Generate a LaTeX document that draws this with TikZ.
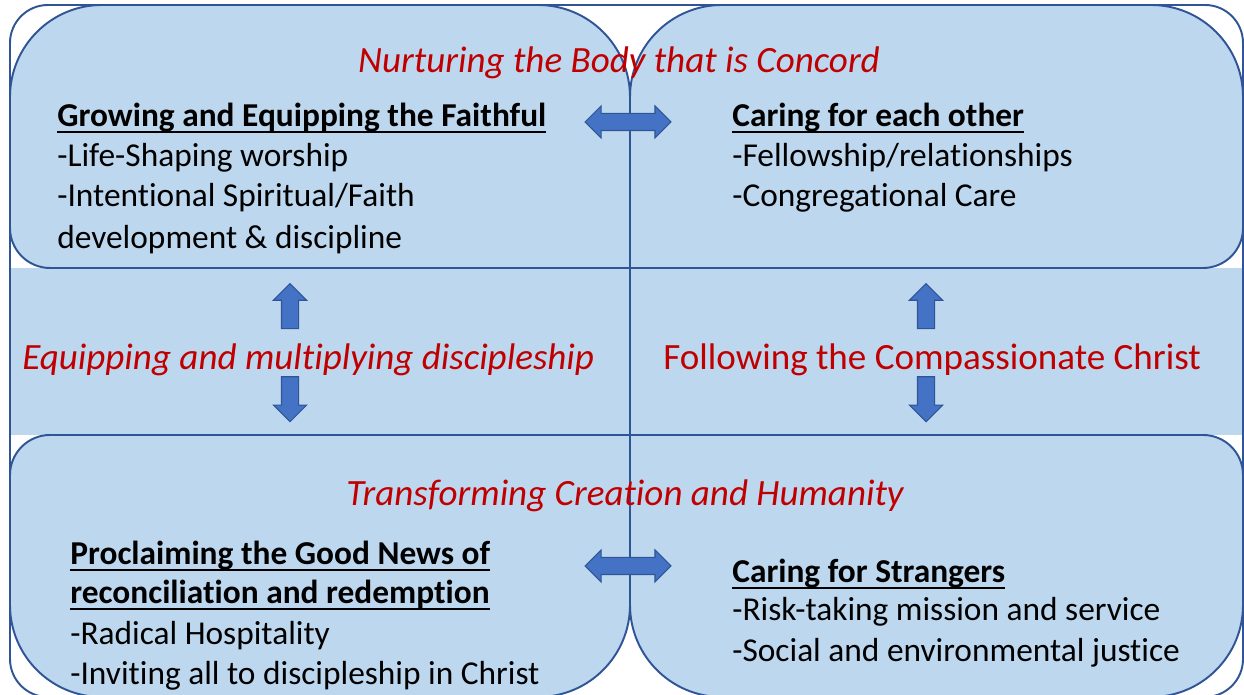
\documentclass[tikz,border=0pt]{standalone}
\usepackage{fontspec}
\setmainfont{Carlito}[Ligatures=NoCommon]
\usetikzlibrary{shapes.arrows}

\definecolor{quadfill}{HTML}{BDD7EE}
\definecolor{quadline}{HTML}{2F5597}
\definecolor{arrowfill}{HTML}{4472C4}
\definecolor{themered}{HTML}{C00000}

\newcommand\underl[1]{\setbox0\hbox{#1}\rlap{\rule[-3.6pt]{\wd0}{1.1pt}}\box0}

\tikzset{
  quad/.style={fill=quadfill, draw=quadline, line width=1.1pt},
  theme/.style={anchor=base, inner sep=0pt, text=themered, font=\fontsize{21.1}{25}\selectfont},
  itemtxt/.style={anchor=base west, inner sep=0pt, font=\fontsize{19}{23}\selectfont},
  headtxt/.style={itemtxt, font=\fontsize{19}{23}\selectfont\bfseries},
  dblarrow/.style={double arrow, fill=arrowfill, draw=quadline, line width=0.6pt,
    inner xsep=0pt, inner ysep=0.16cm, minimum height=1.72cm, double arrow head extend=0.15cm},
  sglarrow/.style={single arrow, fill=arrowfill, draw=quadline, line width=0.6pt,
    inner sep=0.16cm, minimum height=0.9cm, single arrow head extend=0.16cm}
}

\begin{document}
\begin{tikzpicture}[x=0.02cm, y=0.02cm]
  \useasboundingbox (0,0) rectangle (1244,695);

  % frame and middle band
  \fill[white, rounded corners=0.76cm] (10,-2) rectangle (1243,690);
  \fill[quadfill] (10,260) rectangle (1243,427);

  % the four quarters
  \draw[quad] (10,467) -- (10,598) arc[start angle=180, end angle=90, radius=92]
    -- (538,690) arc[start angle=90, end angle=0, radius=92] -- (630,427)
    -- (50,427) arc[start angle=270, end angle=180, radius=40] -- cycle;
  \draw[quad] (630,427) -- (630,598) arc[start angle=180, end angle=90, radius=92]
    -- (1151,690) arc[start angle=90, end angle=0, radius=92] -- (1243,467)
    arc[start angle=0, end angle=-90, radius=40] -- cycle;
  \draw[quad] (50,260) arc[start angle=90, end angle=180, radius=40] -- (10,90)
    arc[start angle=180, end angle=270, radius=92] -- (538,-2)
    arc[start angle=270, end angle=360, radius=92] -- (630,260) -- cycle;
  \draw[quad] (630,260) -- (630,90) arc[start angle=180, end angle=270, radius=92]
    -- (1151,-2) arc[start angle=270, end angle=360, radius=92] -- (1243,220)
    arc[start angle=0, end angle=90, radius=40] -- cycle;
  \draw[quadline, line width=1.1pt] (630,427) -- (630,260);
  \draw[quadline, line width=1.1pt, rounded corners=0.76cm] (10,-2) rectangle (1243,690);

  % themes
  \node[theme, font=\fontsize{21.1}{25}\selectfont\itshape] (nurture) at (619,622) {Nurturing the Body that is Concord};
  \node[theme, font=\fontsize{21.1}{25}\selectfont\itshape, anchor=base west] (equip) at (22,325) {Equipping and multiplying discipleship};
  \node[theme, anchor=base west] (follow) at (663,325) {Following the Compassionate Christ};
  \node[theme, font=\fontsize{21.1}{25}\selectfont\itshape] (transform) at (625,189) {Transforming Creation and Humanity};

  % top left
  \node[headtxt] (grow) at (57,568) {\underl{Growing and Equipping the Faithful}};
  \node[itemtxt] (worship) at (57,528) {-Life-Shaping worship};
  \node[itemtxt] (faith) at (57,488) {-Intentional Spiritual/Faith};
  \node[itemtxt] (develop) at (57,446) {development \& discipline};

  % top right
  \node[headtxt] (caring) at (732,568) {\underl{Caring for each other}};
  \node[itemtxt] (fellow) at (732,528) {-Fellowship/relationships};
  \node[itemtxt] (congcare) at (732,488) {-Congregational Care};

  % bottom left
  \node[headtxt] (proclaim) at (70,130) {\underl{Proclaiming the Good News of}};
  \node[headtxt] (reconcile) at (70,91) {\underl{reconciliation and redemption}};
  \node[itemtxt] (hospital) at (70,50) {-Radical Hospitality};
  \node[itemtxt] (inviting) at (70,10) {-Inviting all to discipleship in Christ};

  % bottom right
  \node[headtxt] (strangers) at (732,112) {\underl{Caring for Strangers}};
  \node[itemtxt] (risk) at (732,74) {-Risk-taking mission and service};
  \node[itemtxt] (justice) at (732,33) {-Social and environmental justice};

  % arrows
  \node[dblarrow] (toparrow) at (628,573) {};
  \node[dblarrow] (botarrow) at (628,129) {};
  \node[sglarrow, shape border rotate=90] (leftup) at (290,384.5) {};
  \node[sglarrow, shape border rotate=270] (leftdown) at (290,300) {};
  \node[sglarrow, shape border rotate=90] (rightup) at (926,384.5) {};
  \node[sglarrow, shape border rotate=270] (rightdown) at (926,300) {};
\end{tikzpicture}
\end{document}
